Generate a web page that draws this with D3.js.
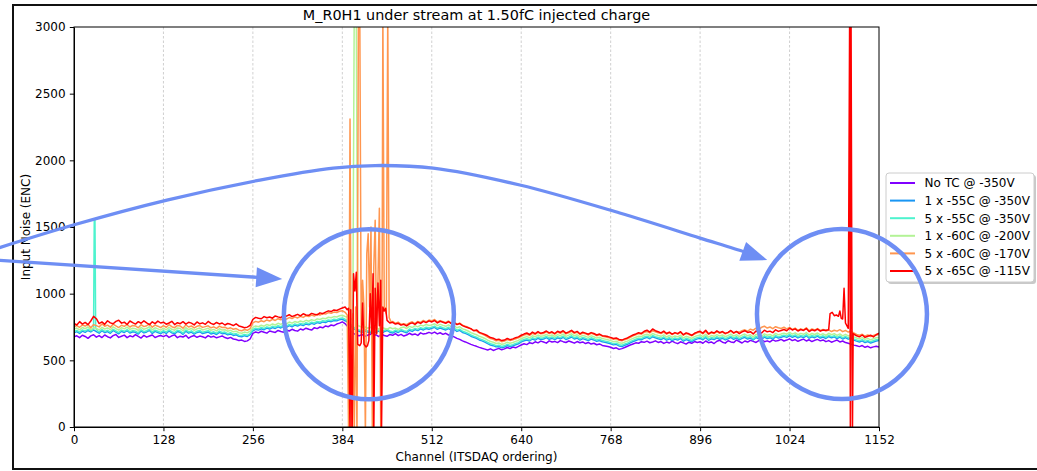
<!DOCTYPE html>
<html>
<head>
<meta charset="utf-8">
<script src="https://cdn.jsdelivr.net/npm/d3@7"></script>
<style>
  body { margin: 0; background: #fff; }
  svg { display: block; font-family: "DejaVu Sans", sans-serif; }
</style>
</head>
<body>
<svg id="chart" width="1037" height="471"></svg>
<script>
// ---- data -------------------------------------------------------------
// Noise per channel, sampled every 4 channels (0..1152), one row = 128 channels.
// N marks samples that are given channel-by-channel in the detail arrays.
const N = null;
const channelStep = 4;
const xTicks = [0, 128, 256, 384, 512, 640, 768, 896, 1024, 1152];
const yTicks = [0, 500, 1000, 1500, 2000, 2500, 3000];

const seriesNames = [
  "No TC @ -350V",
  "1 x -55C @ -350V",
  "5 x -55C @ -350V",
  "1 x -60C @ -200V",
  "5 x -60C @ -170V",
  "5 x -65C @ -115V"
];
const seriesColors = ["#8000ff", "#1996f3", "#4df3ce", "#b3f396", "#ff964f", "#ff0000"];

const noTC = [
  676, 684, 670, 688, 679, 665, 683, 692, 674, 686, 671, 690, 677, 668, 685, 694, 672, 681, 689, 670, 684, 676, 693, 679, 667, 687, 674, 682, 690, 671, 680, 686,
  678, 689, 672, 684, 691, 670, 681, 675, 688, 666, 679, 686, 673, 682, 677, 668, 685, 674, 680, 669, 676, 683, 671, 664, 672, 660, 656, 648, 652, 642, 646, 660,
  702, 713, 706, 718, 711, 704, 720, 714, 709, 724, 716, 711, 727, 720, 733, 724, 719, 735, 728, 741, 733, 727, 745, 738, 750, 744, 758, 752, 765, 760, 772, 779,
  788, 775, 752, 720, 702, 690, 684, 695, 679, 688, 697, 683, 692, 678, 698, 686, 680, 694, 688, 701, 685, 695, 682, 690, 703, 692, 698, 687, 706, 697, 701, 710,
  702, 712, 698, 707, 695, 703, 690, 684, 676, 665, 657, 646, 638, 629, 620, 612, 605, 597, 590, 584, 578, 586, 574, 582, 590, 579, 586, 596, 588, 600, 594, 605,
  615, 624, 618, 632, 626, 639, 631, 644, 637, 629, 646, 638, 642, 633, 648, 640, 634, 645, 637, 629, 641, 632, 638, 626, 634, 622, 628, 617, 623, 612, 608, 604,
  598, 589, 594, 582, 588, 596, 606, 615, 623, 631, 628, 640, 635, 644, 632, 638, 646, 634, 641, 627, 637, 630, 644, 633, 625, 639, 631, 622, 636, 628, 641, 634,
  640, 628, 645, 632, 638, 626, 643, 650, 636, 629, 647, 638, 633, 652, 641, 630, 645, 637, 650, 642, 634, 648, 655, 640, 646, 638, 653, 644, 649, 657, 645, 652,
  661, 648, 656, 643, 652, 659, 645, 654, 641, 650, 657, 646, 653, 640, 648, 636, 644, 652, 638, 645, 633, 628, 621, 614, 609, 603, 611, 598, 605, 594, 601, 606,
  600
];
const tc1x55 = [
  707, 715, 702, 719, 710, 724, 713, 728, 716, 704, 722, 708, 716, 703, 724, 711, 699, 718, 709, 722, 705, 714, 710, 697, 720, 706, 713, 725, 702, 717, 709, 700,
  714, 702, 720, 706, 699, 716, 711, 695, 719, 704, 712, 697, 709, 715, 701, 707, 713, 698, 705, 694, 710, 700, 703, 691, 698, 687, 692, 680, 677, 685, 679, 692,
  722, 732, 727, 737, 730, 742, 735, 746, 739, 751, 743, 755, 748, 760, 752, 764, 757, 768, 761, 773, 766, 777, 771, 783, 778, 788, 784, 794, 790, 799, 796, 805,
  809, 797, 784, 760, 738, 727, 718, 710, 722, 713, 706, 717, 709, 720, 703, 715, 724, 711, 705, 718, 709, 722, 714, 707, 726, 717, 731, 723, 736, 728, 739, 733,
  740, 747, 733, 743, 735, 728, 739, 724, 732, 717, 725, 709, 702, 693, 681, 672, 665, 653, 646, 637, 625, 615, 610, 601, 604, 595, 600, 611, 603, 609, 617, 624,
  638, 647, 653, 645, 660, 652, 666, 656, 660, 670, 658, 666, 655, 669, 661, 673, 656, 665, 675, 660, 668, 652, 663, 656, 648, 660, 653, 643, 649, 639, 635, 630,
  624, 616, 620, 608, 604, 613, 620, 631, 641, 649, 657, 654, 666, 672, 662, 677, 669, 662, 656, 667, 651, 662, 648, 659, 652, 664, 644, 656, 649, 640, 653, 661,
  666, 654, 672, 650, 662, 656, 669, 658, 666, 653, 662, 673, 658, 668, 654, 665, 673, 660, 668, 652, 671, 662, 656, 675, 664, 670, 659, 678, 667, 673, 680, 672,
  686, 673, 682, 668, 678, 671, 684, 666, 677, 670, 681, 667, 675, 664, 679, 669, 676, 663, 674, 660, 671, 659, 666, 652, 644, 638, 646, 633, 641, 630, 638, 645,
  648
];
const tc5x55 = [
  716, 724, 711, 728, 719, 733, 722, N, N, 713, 731, 717, 725, 712, 733, 720, 708, 727, 718, 731, 714, 723, 719, 706, 729, 715, 722, 734, 711, 726, 718, 709,
  723, 711, 729, 715, 708, 725, 720, 704, 728, 713, 721, 706, 718, 724, 710, 716, 722, 707, 714, 703, 719, 709, 712, 700, 707, 696, 701, 689, 686, 694, 688, 701,
  731, 741, 736, 746, 739, 751, 744, 755, 748, 760, 752, 764, 757, 769, 761, 773, 766, 777, 770, 782, 775, 786, 780, 792, 787, 797, 793, 803, 799, 808, 805, 814,
  818, 808, 795, 770, 748, 736, 727, 719, 731, 722, 715, 726, 718, 729, 712, 724, 733, 720, 714, 727, 718, 731, 723, 716, 735, 726, 740, 732, 745, 737, 748, 742,
  749, 756, 742, 752, 744, 737, 748, 733, 741, 726, 734, 718, 711, 702, 690, 681, 674, 662, 655, 646, 634, 624, 619, 610, 613, 604, 609, 620, 612, 618, 626, 633,
  647, 656, 662, 654, 669, 661, 675, 665, 669, 679, 667, 675, 664, 678, 670, 682, 665, 674, 684, 669, 677, 661, 672, 665, 657, 669, 662, 652, 658, 648, 644, 639,
  633, 625, 629, 617, 613, 622, 629, 640, 650, 658, 666, 663, 675, 681, 671, 686, 678, 671, 665, 676, 660, 671, 657, 668, 661, 673, 653, 665, 658, 649, 662, 670,
  675, 663, 681, 659, 671, 665, 678, 667, 675, 662, 671, 682, 667, 677, 663, 674, 682, 669, 677, 661, 680, 671, 665, 684, 673, 679, 668, 687, 676, 682, 689, 681,
  695, 682, 691, 677, 687, 680, 693, 675, 686, 679, 690, 676, 684, 673, 688, 678, 685, 672, 683, 669, 680, 668, 675, 661, 653, 647, 655, 642, 650, 639, 647, 654,
  657
];
const tc1x60 = [
  734, 742, 729, 746, 737, 750, 731, 744, 739, 728, 748, 735, 743, 730, 751, 738, 726, 745, 736, 749, 732, 741, 737, 724, 747, 733, 740, 752, 729, 744, 736, 727,
  741, 729, 747, 733, 726, 743, 738, 722, 746, 731, 739, 724, 736, 742, 728, 734, 740, 725, 732, 721, 737, 727, 730, 718, 725, 714, 719, 707, 703, 712, 706, 719,
  747, 758, 752, 763, 756, 769, 761, 773, 765, 778, 770, 782, 774, 787, 779, 791, 784, 795, 788, 800, 793, 805, 798, 811, 806, 816, 812, 823, 819, 828, 825, 834,
  838, 829, 822, N, N, N, 758, 747, 752, 741, 748, 738, 744, 735, 749, 740, 733, 746, 737, 742, 731, 745, 750, 739, 755, 746, 760, 751, 764, 758, 769, 761,
  766, 774, 760, 770, 762, 755, 766, 751, 759, 744, 752, 736, 729, 720, 708, 699, 692, 680, 673, 664, 652, 641, 636, 626, 630, 620, 625, 636, 628, 634, 642, 649,
  662, 671, 678, 669, 684, 676, 690, 680, 684, 694, 682, 690, 679, 693, 685, 697, 680, 689, 699, 684, 692, 676, 687, 680, 672, 684, 677, 667, 673, 663, 659, 654,
  648, 640, 644, 632, 628, 637, 644, 655, 665, 673, 681, 678, 690, 696, 686, 701, 693, 686, 680, 691, 675, 686, 672, 683, 676, 688, 668, 680, 673, 664, 677, 685,
  690, 678, 696, 674, 686, 680, 693, 682, 690, 677, 686, 697, 682, 692, 678, 689, 697, 684, 692, 676, 695, 686, 680, 699, 688, 694, 683, 702, 691, 697, 704, 696,
  710, 697, 706, 692, 702, 695, 708, 690, 701, 694, 705, 691, 699, 688, 703, 693, 700, 687, 698, 684, 695, 683, 690, 676, 668, 662, 670, 657, 665, 654, 662, 669,
  672
];
const tc5x60 = [
  752, 761, 748, 765, 757, 770, 745, 768, 760, 751, 773, 756, 764, 749, 771, 758, 746, 763, 755, 769, 750, 762, 758, 744, 767, 753, 760, 772, 749, 764, 756, 745,
  760, 748, 767, 752, 745, 762, 757, 741, 766, 750, 758, 743, 755, 761, 747, 753, 759, 744, 751, 740, 757, 746, 749, 737, 744, 733, 738, 726, 722, 731, 725, 738,
  781, 792, 786, 797, 790, 803, 795, 808, 799, 812, 804, 817, 809, 821, 813, 826, 818, 830, 822, 835, 828, 839, 832, 846, 840, 851, 847, 858, 853, 862, 859, 868,
  872, N, N, N, N, N, N, N, N, N, N, N, N, N, N, N, N, N, 792, 778, 786, 770, 775, 767, 781, 789, 776, 792, 784, 799, 788, 802,
  795, 806, 788, 798, 790, 782, 795, 778, 786, 771, 779, 763, 755, 748, 734, 725, 719, 705, 697, 688, 675, 663, 657, 646, 650, 640, 645, 656, 648, 655, 662, 669,
  680, 689, 696, 688, 703, 694, 709, 699, 702, 713, 700, 708, 697, 712, 703, 716, 698, 707, 718, 702, 711, 694, 705, 699, 690, 703, 696, 685, 692, 681, 677, 672,
  665, 658, 662, 650, 646, 655, 662, 673, 684, 692, 700, 697, 710, 716, 706, 722, 714, 707, 701, 712, 696, 707, 693, 704, 697, 710, 689, 701, 694, 684, 698, 706,
  712, 699, 718, 695, 707, 701, 715, 703, 712, 698, 707, 719, 703, 714, 712, 722, 729, 718, 734, 726, 741, 733, 748, 756, 742, 750, 737, 752, 744, 739, 748, 736,
  747, 731, 742, 725, 736, 728, 744, 722, 735, 727, 738, 724, 731, 720, 728, 716, 726, 719, 730, 715, 724, 712, 718, 705, 694, 688, 695, 682, 690, 679, 687, 694,
  692
];
const tc5x65 = [
  778, 765, 790, 772, 784, 768, 795, 830, 812, 776, 788, 770, 797, 781, 774, 792, 801, 779, 786, 769, 795, 783, 772, 790, 778, 796, 781, 767, 789, 775, 794, 780,
  786, 771, 780, 793, 768, 782, 775, 790, 772, 785, 779, 766, 788, 774, 781, 770, 792, 777, 769, 784, 773, 780, 765, 776, 770, 761, 774, 758, 752, 745, 749, 762,
  808, 822, 815, 812, 828, 819, 825, 816, 833, 826, 820, 838, 831, 842, 828, 836, 845, 833, 849, 840, 838, 852, 846, 841, 856, 850, 862, 871, 866, 878, 874, 884,
  892, N, N, N, N, N, N, N, N, N, N, N, N, N, N, N, N, N, 785, 772, 778, 764, 770, 758, 774, 781, 770, 786, 777, 792, 783, 796,
  788, 799, 781, 793, 786, 778, 790, 775, 783, 768, 776, 760, 752, 745, 738, 722, 728, 710, 702, 694, 684, 671, 666, 655, 659, 648, 652, 664, 655, 661, 670, 676,
  688, 697, 705, 694, 712, 700, 716, 703, 709, 720, 706, 714, 701, 718, 709, 722, 704, 713, 725, 708, 717, 699, 711, 704, 696, 708, 701, 690, 697, 685, 682, 678,
  672, 664, 668, 657, 652, 661, 668, 680, 690, 698, 707, 702, 718, 726, 712, 735, 722, 714, 706, 719, 701, 712, 697, 708, 700, 715, 692, 706, 699, 688, 703, 712,
  718, 704, 726, 699, 712, 705, 721, 708, 716, 702, 710, 724, 706, 717, 700, 713, 722, 709, 715, 698, 720, 711, 705, 726, 714, 719, 708, 729, 717, 724, 731, 722,
  741, 728, 736, 720, 731, 724, 738, 716, 729, 722, 734, 719, 727, N, N, N, N, N, N, N, N, N, N, N, 684, 676, 690, 672, 681, 688, 676, 692,
  703
];

// Channel-by-channel readings around the unstable strips: [channel, ENC]
const tc5x55Detail = [[26, 725], [28, 740], [29, 1560], [30, 1560], [31, 740], [34, 720]];
const tc1x60Detail = [[396, 815], [399, 800], [401, 3100], [404, 3100], [406, 760]];
const tc5x60Detail = [
  [388, 860], [391, 840], [393, -60], [395, 2310], [397, -60], [399, 850], [401, -60],
  [403, 900], [405, -60], [407, 3100], [409, 3100], [411, 700], [413, 1100], [415, 900],
  [417, -60], [419, 1300], [421, 1450], [423, 900], [425, 1500], [427, -60], [429, 1200],
  [431, 1550], [433, 700], [435, 1100], [437, 1640], [439, -60], [441, 1200], [442, 3100],
  [444, 900], [447, 850], [449, 3100], [451, 820], [454, 785]
];
const tc5x65Detail = [
  [388, 900], [391, 880], [393, 890], [395, -60], [396, 880], [398, -60], [400, 1150],
  [402, 1020], [404, 1160], [406, 620], [409, 610], [411, 630], [413, 930], [415, 620],
  [418, 600], [420, 610], [422, 650], [424, 1000], [426, 700], [428, 1150], [429, -60],
  [431, 1040], [433, 700], [435, 1080], [437, 760], [439, 1100], [440, -60], [442, 900],
  [444, 870], [446, 890], [448, 800], [452, 780],
  [1076, 725], [1080, 730], [1082, 850], [1085, 860], [1088, 835], [1091, 840], [1094, 830],
  [1096, 870], [1098, 815], [1100, 810], [1102, 1040], [1104, 780], [1106, 760], [1108, 740],
  [1110, 3100], [1111, -60], [1112, 3100], [1113, 1350], [1114, -60], [1115, 700], [1118, 690]
];

// Callout shapes, in data units (channel, ENC)
const calloutCircles = [[422, 845], [1099, 847]];
const calloutArc = [
  [-113, 1335], [-1, 1515], [133, 1702], [266, 1852], [371, 1942], [431, 1961],
  [514, 1942], [638, 1815], [781, 1605], [896, 1417], [960, 1312]
];
const calloutArcTip = [992, 1252];
const calloutLine = [[-113, 1252], [298, 1110]];

// ---- build ------------------------------------------------------------
const seriesValues = [noTC, tc1x55, tc5x55, tc1x60, tc5x60, tc5x65];
const seriesDetail = [[], [], tc5x55Detail, tc1x60Detail, tc5x60Detail, tc5x65Detail];

const series = seriesValues.map((vals, s) => {
  const pts = vals
    .map((v, i) => [i * channelStep, v])
    .filter(p => p[1] !== null)
    .concat(seriesDetail[s]);
  pts.sort((a, b) => a[0] - b[0]);
  return { name: seriesNames[s], color: seriesColors[s], points: pts };
});

const svg = d3.select("#chart");
const plot = { left: 74, right: 879, top: 27, bottom: 427 };

const x = d3.scaleLinear().domain([0, 1152]).range([plot.left, plot.right]);
const y = d3.scaleLinear().domain([0, 3000]).range([plot.bottom, plot.top]);

// outer figure frame
svg.append("rect")
  .attr("x", 13).attr("y", 5).attr("width", 1040).attr("height", 464)
  .attr("fill", "#fff").attr("stroke", "#111").attr("stroke-width", 2);

svg.append("defs").append("clipPath").attr("id", "plotClip")
  .append("rect")
  .attr("x", plot.left).attr("y", plot.top)
  .attr("width", plot.right - plot.left).attr("height", plot.bottom - plot.top);

// vertical grid
svg.append("g")
  .selectAll("line")
  .data(xTicks.slice(1, -1))
  .join("line")
  .attr("x1", d => x(d)).attr("x2", d => x(d))
  .attr("y1", plot.top).attr("y2", plot.bottom)
  .attr("stroke", "#c4c4c4").attr("stroke-width", 0.8)
  .attr("stroke-dasharray", "2.5,2");

// noise lines
const line = d3.line().x(d => x(d[0])).y(d => y(d[1]));
svg.append("g")
  .attr("clip-path", "url(#plotClip)")
  .selectAll("path")
  .data(series)
  .join("path")
  .attr("d", d => line(d.points))
  .attr("fill", "none")
  .attr("stroke", d => d.color)
  .attr("stroke-width", 1.5)
  .attr("stroke-linejoin", "round");

// plot box
svg.append("rect")
  .attr("x", plot.left).attr("y", plot.top)
  .attr("width", plot.right - plot.left).attr("height", plot.bottom - plot.top)
  .attr("fill", "none").attr("stroke", "#000").attr("stroke-width", 1);

// axes
const xAxis = svg.append("g")
  .attr("transform", `translate(0,${plot.bottom})`)
  .call(d3.axisBottom(x).tickValues(xTicks).tickFormat(d3.format("d"))
    .tickSize(4.2).tickPadding(4.2).tickSizeOuter(0));
const yAxis = svg.append("g")
  .attr("transform", `translate(${plot.left},0)`)
  .call(d3.axisLeft(y).tickValues(yTicks).tickFormat(d3.format("d"))
    .tickSize(4.2).tickPadding(4.2).tickSizeOuter(0));
[xAxis, yAxis].forEach(g => {
  g.select(".domain").attr("stroke", "#000");
  g.selectAll(".tick line").attr("stroke", "#000");
  g.selectAll(".tick text").attr("fill", "#000")
    .style("font-family", "DejaVu Sans").style("font-size", "12px");
});

// titles
svg.append("text")
  .attr("x", (plot.left + plot.right) / 2).attr("y", 20)
  .attr("text-anchor", "middle")
  .style("font-size", "14.4px").attr("fill", "#000")
  .text("M_R0H1 under stream at 1.50fC injected charge");
svg.append("text")
  .attr("x", (plot.left + plot.right) / 2).attr("y", 461)
  .attr("text-anchor", "middle")
  .style("font-size", "12px").attr("fill", "#000")
  .text("Channel (ITSDAQ ordering)");
svg.append("text")
  .attr("transform", `translate(29.5,${(plot.top + plot.bottom) / 2}) rotate(-90)`)
  .attr("text-anchor", "middle")
  .style("font-size", "12px").attr("fill", "#000")
  .text("Input Noise (ENC)");

// legend
const legend = svg.append("g").attr("transform", "translate(886,173)");
legend.append("rect")
  .attr("x", 2).attr("y", 2).attr("width", 148).attr("height", 109).attr("rx", 3)
  .attr("fill", "#888").attr("opacity", 0.45);
legend.append("rect")
  .attr("x", 0).attr("y", 0).attr("width", 148).attr("height", 109).attr("rx", 3)
  .attr("fill", "#fff").attr("stroke", "#cccccc").attr("stroke-width", 1);
const rows = legend.selectAll("g.row").data(series).join("g")
  .attr("class", "row")
  .attr("transform", (d, i) => `translate(0,${10 + i * 17.6})`);
rows.append("line")
  .attr("x1", 4).attr("x2", 29).attr("y1", 0).attr("y2", 0)
  .attr("stroke", d => d.color).attr("stroke-width", 2);
rows.append("text")
  .attr("x", 38.5).attr("y", 4.3)
  .style("font-size", "12px").attr("fill", "#000")
  .text(d => d.name);

// callouts
const callColor = "#6e8ef4";
const callouts = svg.append("g");
callouts.selectAll("circle").data(calloutCircles).join("circle")
  .attr("cx", d => x(d[0])).attr("cy", d => y(d[1])).attr("r", 85)
  .attr("fill", "none").attr("stroke", callColor).attr("stroke-width", 4.5);

function arrowHead(from, tip) {
  const fx = x(from[0]), fy = y(from[1]), tx = x(tip[0]), ty = y(tip[1]);
  const ang = Math.atan2(ty - fy, tx - fx);
  const len = 26, half = 10;
  const bx = tx - len * Math.cos(ang), by = ty - len * Math.sin(ang);
  const nx = -Math.sin(ang) * half, ny = Math.cos(ang) * half;
  return `M${tx},${ty}L${bx + nx},${by + ny}L${bx - nx},${by - ny}Z`;
}

const arcEnd = calloutArc[calloutArc.length - 1];
const arcLine = d3.line().x(d => x(d[0])).y(d => y(d[1])).curve(d3.curveCatmullRom);
callouts.append("path")
  .attr("d", arcLine(calloutArc.concat([[arcEnd[0] * 0.4 + calloutArcTip[0] * 0.6, arcEnd[1] * 0.4 + calloutArcTip[1] * 0.6]])))
  .attr("fill", "none").attr("stroke", callColor).attr("stroke-width", 3.3);
callouts.append("path")
  .attr("d", arrowHead(arcEnd, calloutArcTip))
  .attr("fill", callColor);

const straight = d3.line().x(d => x(d[0])).y(d => y(d[1]));
callouts.append("path")
  .attr("d", straight([calloutLine[0],
    [calloutLine[0][0] * 0.08 + calloutLine[1][0] * 0.92, calloutLine[0][1] * 0.08 + calloutLine[1][1] * 0.92]]))
  .attr("fill", "none").attr("stroke", callColor).attr("stroke-width", 3.3);
callouts.append("path")
  .attr("d", arrowHead(calloutLine[0], calloutLine[1]))
  .attr("fill", callColor);
</script>
</body>
</html>
